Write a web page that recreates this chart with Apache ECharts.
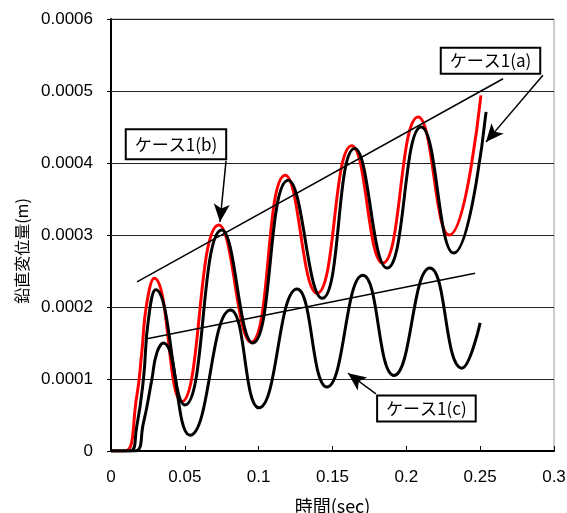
<!DOCTYPE html>
<html>
<head>
<meta charset="utf-8">
<script src="https://cdn.jsdelivr.net/npm/echarts@6/dist/echarts.min.js"></script>
<style>
  html, body { margin: 0; padding: 0; background: #fff; }
  #chart { width: 567px; height: 513px; }
</style>
</head>
<body>
<div id="chart"></div>
<script>
// ケース1(b) 赤線：立ち上がり、ピーク・谷を読み取り
const tB = [0, 0.0095, 0.0174, 0.0208, 0.0242, 0.0293, 0.0478, 0.073, 0.0948, 0.118, 0.1395, 0.163, 0.184, 0.208, 0.229, 0.2505];
const yB = [0, 0, 0.0000754, 0.000136, 0.000205, 0.00024, 0.0000685, 0.000314, 0.000151, 0.000383, 0.000219, 0.000424, 0.000261, 0.000464, 0.0003, 0.000494];

// ケース1(a) 黒線
const tA = [0, 0.0129, 0.0174, 0.0219, 0.0253, 0.0303, 0.0501, 0.075, 0.096, 0.12, 0.143, 0.165, 0.187, 0.21, 0.232, 0.254];
const yA = [0, 0, 0.0000338, 0.0000986, 0.000182, 0.000224, 0.000064, 0.000307, 0.00015, 0.000376, 0.000212, 0.00042, 0.000254, 0.00045, 0.000275, 0.000471];

// ケース1(c) 黒線（振幅小）
const tC = [0, 0.0162, 0.0219, 0.0276, 0.031, 0.0354, 0.0535, 0.081, 0.1002, 0.126, 0.1462, 0.1706, 0.1916, 0.216, 0.2376, 0.25];
const yC = [0, 0, 0.0000385, 0.0000986, 0.000136, 0.00015, 0.000022, 0.000196, 0.00006, 0.000225, 0.000089, 0.000244, 0.000105, 0.000254, 0.000115, 0.000178];

// 傾向線
const trendUpperT = [0.0176, 0.2655];
const trendUpperY = [0.000235, 0.000517];
const trendLowerT = [0.0244, 0.2466];
const trendLowerY = [0.000156, 0.000247];

// ラベル（箱の中心）と矢印
const labelNames = ['ケース1(a)', 'ケース1(b)', 'ケース1(c)'];
const labelT = [0.257, 0.044, 0.2136];
const labelY = [0.000542, 0.000426, 0.000059];
const arrowFromT = [0.2925, 0.0779, 0.1794];
const arrowFromY = [0.000522, 0.000403, 0.0000792];
const arrowToT = [0.2539, 0.0738, 0.1605];
const arrowToY = [0.000429, 0.000318, 0.000108];

const xTicks = [0, 0.05, 0.1, 0.15, 0.2, 0.25, 0.3];
const yTicks = [0, 0.0001, 0.0002, 0.0003, 0.0004, 0.0005, 0.0006];

const zip = (a, b) => a.map((v, i) => [v, b[i]]);
const font = '"Liberation Sans", Arial, sans-serif';
const jpFont = '"Noto Sans CJK JP", sans-serif';

const chart = echarts.init(document.getElementById('chart'), null, { renderer: 'canvas' });

const curve = (name, t, y, color) => ({
  name: name,
  type: 'line',
  data: zip(t, y),
  smooth: 0.5,
  showSymbol: false,
  lineStyle: { color: color, width: 3 },
  z: 3
});

const trend = (t, y) => ({
  type: 'line',
  data: zip(t, y),
  showSymbol: false,
  lineStyle: { color: '#000', width: 1.5 },
  z: 4
});

const option = {
  animation: false,
  backgroundColor: '#fff',
  grid: {
    left: 111, right: 13, top: 19, bottom: 62,
    containLabel: false, outerBoundsMode: 'none',
    show: true, borderColor: '#999', borderWidth: 1
  },
  xAxis: {
    type: 'value',
    min: xTicks[0], max: xTicks[xTicks.length - 1], interval: 0.05,
    name: '時間(sec)', nameLocation: 'middle', nameGap: 46,
    nameTextStyle: { fontFamily: jpFont, fontSize: 18, color: '#000' },
    axisLine: { lineStyle: { color: '#000', width: 2 } },
    axisTick: { inside: true, length: 5, lineStyle: { color: '#000' } },
    splitLine: { show: false },
    axisLabel: {
      fontFamily: font, fontSize: 17, color: '#000', margin: 18,
      formatter: v => String(parseFloat(v.toFixed(2)))
    }
  },
  yAxis: {
    type: 'value',
    min: yTicks[0], max: yTicks[yTicks.length - 1], interval: 0.0001,
    name: '鉛直変位量(m)', nameLocation: 'middle', nameGap: 78,
    nameTextStyle: { fontFamily: jpFont, fontSize: 16, color: '#000', padding: [0, 32, 0, 0] },
    axisLine: { lineStyle: { color: '#000', width: 2 } },
    axisTick: { inside: false, length: 4, lineStyle: { color: '#000' } },
    splitLine: { show: true, lineStyle: { color: '#222', width: 1 } },
    axisLabel: {
      fontFamily: font, fontSize: 17, color: '#000', margin: 18,
      formatter: v => v === 0 ? '0' : v.toFixed(4)
    }
  },
  series: [
    curve('ケース1(b)', tB, yB, '#ff0000'),
    curve('ケース1(a)', tA, yA, '#000'),
    curve('ケース1(c)', tC, yC, '#000'),
    trend(trendUpperT, trendUpperY),
    trend(trendLowerT, trendLowerY),
    {
      type: 'line',
      data: [],
      z: 10,
      markLine: {
        silent: true,
        symbol: ['none', 'arrow'],
        symbolSize: [12, 18],
        label: { show: false },
        lineStyle: { color: '#000', width: 1.5, type: 'solid' },
        data: arrowFromT.map((t, i) => [
          { coord: [t, arrowFromY[i]] },
          { coord: [arrowToT[i], arrowToY[i]] }
        ])
      },
      markPoint: {
        silent: true,
        symbol: 'circle',
        symbolSize: 0,
        data: labelNames.map((n, i) => ({
          coord: [labelT[i], labelY[i]],
          label: {
            show: true, position: 'inside', formatter: n,
            fontFamily: jpFont, fontSize: 17, color: '#000',
            backgroundColor: '#fff', borderColor: '#000', borderWidth: 2,
            padding: i === 1 ? [6, 8, 5, 8] : [4, 8, 3, 8]
          }
        }))
      }
    }
  ]
};

option && chart.setOption(option);
</script>
</body>
</html>
